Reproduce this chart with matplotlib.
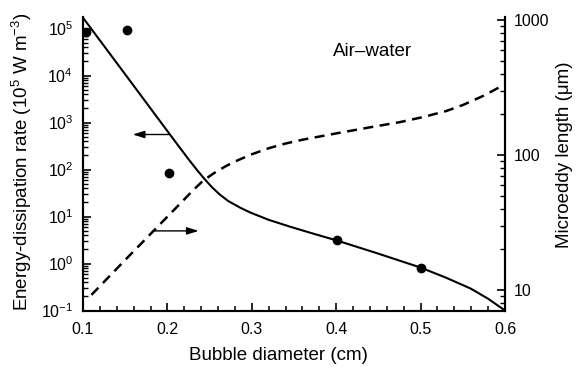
import matplotlib
matplotlib.use("Agg")
import matplotlib.pyplot as plt
from matplotlib.ticker import MultipleLocator, LogLocator, FuncFormatter, NullFormatter

plt.rcParams['font.family'] = ['Liberation Sans', 'DejaVu Sans']
plt.rcParams['mathtext.fontset'] = 'custom'
plt.rcParams['mathtext.rm'] = 'Liberation Sans'
plt.rcParams['mathtext.it'] = 'Liberation Sans:italic'
plt.rcParams['mathtext.bf'] = 'Liberation Sans:bold'

# ---- data ----
# energy-dissipation rate model curve (left axis)
diss_d = [0.1, 0.15, 0.203, 0.215, 0.225, 0.235, 0.2446, 0.253, 0.262, 0.272, 0.286, 0.298,
          0.32, 0.345, 0.37, 0.401, 0.45, 0.5, 0.53, 0.559, 0.58, 0.6]
diss_e = [1.7e5, 1.06e4, 556, 287, 166, 98, 61, 41.7, 29.4, 21.4, 15.5, 12.2,
          8.5, 6.1, 4.47, 3.08, 1.62, 0.82, 0.50, 0.295, 0.178, 0.1]
# measured points (left axis)
pts_d = [0.104, 0.152, 0.202, 0.401, 0.5]
pts_e = [8.5e4, 9.5e4, 85, 3.1, 0.8]
# microeddy length curve (right axis)
eddy_d = [0.11, 0.15, 0.2, 0.23, 0.242, 0.255, 0.27, 0.285, 0.30, 0.32, 0.34, 0.36,
          0.40, 0.44, 0.476, 0.503, 0.53, 0.55, 0.575, 0.594]
eddy_l = [9.2, 16.7, 34.9, 54.4, 64.3, 73.3, 83.2, 92.3, 101.2, 112.2, 121.6, 129.7,
          144.5, 160.3, 175.4, 191, 211.3, 234.4, 275.4, 319]

fig = plt.figure(figsize=(5.79, 3.67), dpi=100)
ax = fig.add_axes([83/579, 1 - 310.5/367, 422/579, 293.5/367])
ax2 = ax.twinx()

ax.set_yscale('log')
ax2.set_yscale('log')
ax.set_xlim(0.1, 0.6)
ax.set_ylim(0.1, 1.76e5)
ax2.set_ylim(7.05, 1052)

ax.plot(diss_d, diss_e, color='black', lw=1.5, solid_capstyle='butt', solid_joinstyle='round')
ax.plot(pts_d, pts_e, 'o', color='black', ms=6, zorder=1)
ax2.plot(eddy_d, eddy_l, color='black', lw=1.8, linestyle=(0, (4, 2.6)))

# arrows
ax.annotate('', xy=(0.159, 556), xytext=(0.2015, 556),
            arrowprops=dict(arrowstyle='-|>,head_length=0.7,head_width=0.22',
                            color='black', lw=1.0, shrinkA=0, shrinkB=0))
ax2.annotate('', xy=(0.237, 27.4), xytext=(0.185, 27.4),
             arrowprops=dict(arrowstyle='-|>,head_length=0.7,head_width=0.22',
                             color='black', lw=1.0, shrinkA=0, shrinkB=0))

ax.text(0.685, 0.881, 'Air–water', transform=ax.transAxes, ha='center', va='center',
        fontsize=13.5)

# spines
for a in (ax, ax2):
    a.spines['top'].set_visible(False)
    for s in ('left', 'right', 'bottom'):
        a.spines[s].set_linewidth(1.5)

# x ticks
ax.xaxis.set_major_locator(MultipleLocator(0.1))
ax.xaxis.set_minor_locator(MultipleLocator(0.02))
ax.xaxis.set_major_formatter(FuncFormatter(lambda v, p: f'{v:.1f}'))
ax.tick_params(axis='x', which='major', direction='in', length=6, width=1.2, pad=8, labelsize=11.5)
ax.tick_params(axis='x', which='minor', direction='in', length=3.5, width=1.1)
ax.tick_params(axis='y', which='major', direction='in', length=6, width=1.2, pad=7, labelsize=11.5,
               right=False)
ax.tick_params(axis='y', which='minor', direction='in', length=3.5, width=1.0, right=False)
ax.yaxis.set_major_locator(LogLocator(base=10, numticks=20))
ax.yaxis.set_minor_locator(LogLocator(base=10, subs=range(2, 10), numticks=20))
ax.yaxis.set_minor_formatter(NullFormatter())

ax2.yaxis.set_major_locator(LogLocator(base=10, numticks=10))
ax2.yaxis.set_minor_locator(LogLocator(base=10, subs=range(2, 10), numticks=10))
ax2.yaxis.set_major_formatter(FuncFormatter(lambda v, p: f'{v:.0f}'))
ax2.yaxis.set_minor_formatter(NullFormatter())
ax2.tick_params(axis='y', which='major', direction='in', length=6, width=1.2, pad=6, labelsize=11.5)
ax2.tick_params(axis='y', which='minor', direction='in', length=3.5, width=1.0)

# labels
ax.set_xlabel('Bubble diameter (cm)', fontsize=13.5)
ax.xaxis.set_label_coords(0.462, -0.152)
ax.xaxis.label.set_verticalalignment('center')
ax.set_ylabel('Energy-dissipation rate (10$^{5}$ W m$^{-3}$)', fontsize=13.5)
ax.yaxis.set_label_coords(-0.1445, 0.506)
ax.yaxis.label.set_verticalalignment('center')
ax2.set_ylabel('Microeddy length (μm)', fontsize=13.5, rotation=90)
ax2.yaxis.set_label_coords(1.142, 0.53)
ax2.yaxis.label.set_verticalalignment('center')

fig.savefig('out.png', dpi=100)
